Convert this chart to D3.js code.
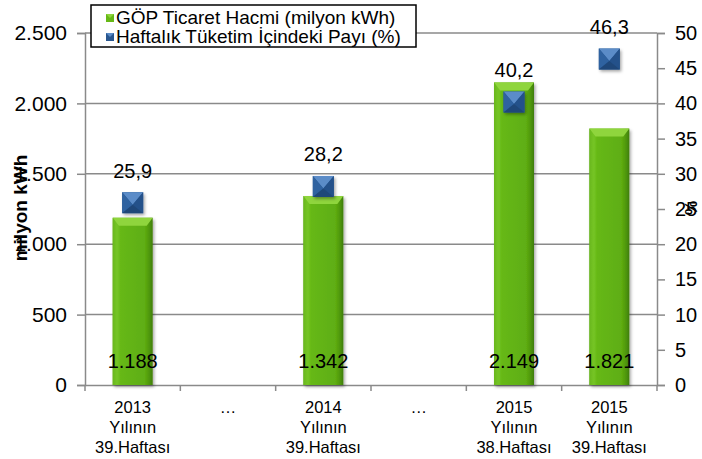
<!DOCTYPE html>
<html>
<head>
<meta charset="utf-8">
<script src="https://cdn.jsdelivr.net/npm/d3@7"></script>
<style>
  html, body { margin: 0; padding: 0; background: #fff; }
  svg { display: block; font-family: Arial, "Liberation Sans", sans-serif; }
</style>
</head>
<body>
<svg id="chart" width="702" height="459"></svg>
<script>
// ---- data ----
const catLine1 = ["2013", "…", "2014", "…", "2015", "2015"];
const catLine2 = ["Yılının", "", "Yılının", "", "Yılının", "Yılının"];
const catLine3 = ["39.Haftası", "", "39.Haftası", "", "38.Haftası", "39.Haftası"];
const volumes = [1188, null, 1342, null, 2149, 1821];      // milyon kWh
const shares  = [25.9, null, 28.2, null, 40.2, 46.3];      // %
const leftTicks  = [0, 500, 1000, 1500, 2000, 2500];
const rightTicks = [0, 5, 10, 15, 20, 25, 30, 35, 40, 45, 50];
const seriesNames = ["GÖP Ticaret Hacmi (milyon kWh)", "Haftalık Tüketim İçindeki Payı (%)"];
const yTitle = "milyon kWh";
const y2Title = "%";

// ---- setup ----
const tr = d3.formatLocale({decimal: ",", thousands: ".", grouping: [3], currency: ["", " ₺"]});
const fInt = tr.format(",.0f");
const fDec = tr.format(".1f");

const svg = d3.select("#chart");
const L = 85, R = 657, T = 33, B = 385;
const idx = d3.range(catLine1.length);
const x = d3.scaleBand().domain(idx).range([L, R]).padding(0);
const y = d3.scaleLinear().domain([0, 2500]).range([B, T]);
const y2 = d3.scaleLinear().domain([0, 50]).range([B, T]);
const gridColor = "#8a8a8a";

const defs = svg.append("defs");
const bg = defs.append("linearGradient").attr("id", "barGrad").attr("x1", 0).attr("x2", 1).attr("y1", 0).attr("y2", 0);
[[0, "#57a30f"], [0.1, "#74c523"], [0.2, "#66b816"], [0.8, "#5fae12"], [0.92, "#4e960b"], [1, "#3f7d07"]]
  .forEach(([o, c]) => bg.append("stop").attr("offset", o).attr("stop-color", c));
const sh = defs.append("filter").attr("id", "shadow").attr("x", "-30%").attr("y", "-30%").attr("width", "160%").attr("height", "160%");
sh.append("feDropShadow").attr("dx", 1.5).attr("dy", 2).attr("stdDeviation", 1.5).attr("flood-color", "#000").attr("flood-opacity", 0.35);

// ---- gridlines ----
svg.append("g").selectAll("line").data(leftTicks.filter(d => d > 0)).join("line")
  .attr("x1", L).attr("x2", R).attr("y1", d => y(d)).attr("y2", d => y(d))
  .attr("stroke", gridColor).attr("stroke-width", 1.5);

// ---- axes ----
const axL = svg.append("g").attr("transform", `translate(${L},0)`)
  .call(d3.axisLeft(y).tickValues(leftTicks).tickFormat(fInt).tickSize(8).tickPadding(10));
const axR = svg.append("g").attr("transform", `translate(${R},0)`)
  .call(d3.axisRight(y2).tickValues(rightTicks).tickFormat(d3.format("d")).tickSize(8).tickPadding(10));
const axB = svg.append("g").attr("transform", `translate(0,${B})`)
  .call(d3.axisBottom(x).tickSize(0).tickFormat(""));
[axL, axR, axB].forEach(g => {
  g.select(".domain").attr("stroke", gridColor).attr("stroke-width", 1.5);
  g.selectAll(".tick line").attr("stroke", gridColor).attr("stroke-width", 1.5);
  g.selectAll(".tick text").attr("fill", "#000").style("font-size", "20px").style("font-family", "Arial, 'Liberation Sans', sans-serif");
});
axL.selectAll(".tick text").style("font-size", "21px");
// category boundary ticks
svg.append("g").selectAll("line").data(d3.range(catLine1.length + 1)).join("line")
  .attr("x1", i => L + i * x.step()).attr("x2", i => L + i * x.step())
  .attr("y1", B).attr("y2", B + 6)
  .attr("stroke", gridColor).attr("stroke-width", 1.5);

// category labels
const cat = svg.append("g").selectAll("text").data(idx).join("text")
  .attr("text-anchor", "middle").style("font-size", "16.5px").attr("fill", "#000")
  .attr("transform", i => `translate(${x(i) + x.bandwidth() / 2},0)`);
cat.append("tspan").attr("x", 0).attr("y", 413).text(i => catLine1[i]);
cat.append("tspan").attr("x", 0).attr("y", 433).text(i => catLine2[i]);
cat.append("tspan").attr("x", 0).attr("y", 453).text(i => catLine3[i]);

// ---- bars ----
const bw = 40;
const barData = idx.filter(i => volumes[i] != null);
const bars = svg.append("g").selectAll("g").data(barData).join("g");
bars.append("rect")
  .attr("x", i => x(i) + x.bandwidth() / 2 - bw / 2).attr("width", bw)
  .attr("y", i => y(volumes[i])).attr("height", i => B - y(volumes[i]))
  .attr("fill", "url(#barGrad)").attr("filter", "url(#shadow)");
bars.append("polygon")
  .attr("points", i => {
    const x0 = x(i) + x.bandwidth() / 2 - bw / 2, x1 = x0 + bw, t = y(volumes[i]);
    return `${x0},${t} ${x1},${t} ${x1 - 6},${t + 8} ${x0 + 6},${t + 8}`;
  })
  .attr("fill", "#8fd53d");
bars.append("polygon")
  .attr("points", i => {
    const x0 = x(i) + x.bandwidth() / 2 - bw / 2, t = y(volumes[i]);
    return `${x0},${t} ${x0 + 6},${t + 8} ${x0 + 6},${B} ${x0},${B}`;
  })
  .attr("fill", "#74c326").attr("opacity", 0.6);

// bar value labels
svg.append("g").selectAll("text").data(barData).join("text")
  .attr("x", i => x(i) + x.bandwidth() / 2).attr("y", B - 17)
  .attr("text-anchor", "middle").style("font-size", "20px").attr("fill", "#000")
  .text(i => fInt(volumes[i]));

// ---- markers ----
const ms = 21;
const mData = idx.filter(i => shares[i] != null);
const mk = svg.append("g").selectAll("g").data(mData).join("g")
  .attr("transform", i => `translate(${x(i) + x.bandwidth() / 2},${y2(shares[i])})`);
const h = ms / 2;
mk.append("rect").attr("x", -h).attr("y", -h).attr("width", ms).attr("height", ms)
  .attr("fill", "#28568f").attr("filter", "url(#shadow)");
mk.append("polygon").attr("points", `${-h},${-h} ${h},${-h} 0,${2}`).attr("fill", "#5b8cc8");
mk.append("polygon").attr("points", `${-h},${-h} 0,${2} ${-h},${h}`).attr("fill", "#2f62a0");
mk.append("polygon").attr("points", `${h},${-h} 0,${2} ${h},${h}`).attr("fill", "#24518a");
mk.append("polygon").attr("points", `${-h},${h} 0,${2} ${h},${h}`).attr("fill", "#1f4779");

// marker labels
svg.append("g").selectAll("text").data(mData).join("text")
  .attr("x", i => x(i) + x.bandwidth() / 2).attr("y", i => y2(shares[i]) - 25)
  .attr("text-anchor", "middle").style("font-size", "20px").attr("fill", "#000")
  .text(i => fDec(shares[i]));

// ---- axis titles ----
svg.append("text").attr("transform", "translate(27,208) rotate(-90)")
  .attr("text-anchor", "middle").style("font-size", "19px").style("font-weight", "bold").attr("fill", "#000")
  .text(yTitle);
svg.append("text").attr("transform", "translate(697,208) rotate(-90)")
  .attr("text-anchor", "middle").style("font-size", "16px").style("font-weight", "bold").attr("fill", "#000")
  .text(y2Title);

// ---- legend ----
const lg = svg.append("g");
lg.append("rect").attr("x", 91).attr("y", 5).attr("width", 325).attr("height", 42)
  .attr("fill", "#fff").attr("stroke", "#000").attr("stroke-width", 1.5);
const lgColors = [["#66b816", "#8fd53d"], ["#28568f", "#5b8cc8"]];
seriesNames.forEach((name, k) => {
  const cy = 18 + k * 19;
  lg.append("rect").attr("x", 106).attr("y", cy - 4).attr("width", 8).attr("height", 8).attr("fill", lgColors[k][0]);
  lg.append("polygon").attr("points", `106,${cy - 4} 114,${cy - 4} 110,${cy}`).attr("fill", lgColors[k][1]);
  lg.append("text").attr("x", 116).attr("y", cy + 6).style("font-size", "19px").attr("fill", "#000").text(name);
});
</script>
</body>
</html>
